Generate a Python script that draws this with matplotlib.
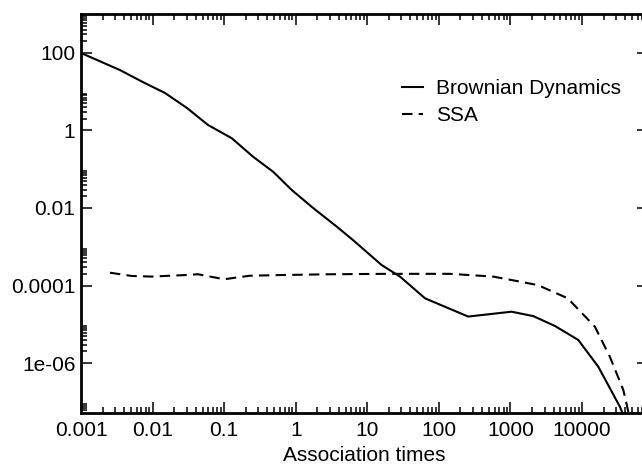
import numpy as np
import matplotlib
matplotlib.use('Agg')
import matplotlib.pyplot as plt
from matplotlib.ticker import FixedLocator, FixedFormatter, NullFormatter

plt.rcParams['font.family'] = ['Liberation Sans', 'DejaVu Sans']

# Brownian Dynamics curve
bd_t = [0.001, 0.0035, 0.0073, 0.0149, 0.0303, 0.0594, 0.128, 0.253, 0.482,
        0.879, 1.75, 3.74, 6.31, 10.9, 15.8, 28.6, 64.0, 122, 257, 1040,
        2090, 4200, 8870, 16900, 33900, 45000]
bd_y = [100, 36.3, 17.8, 9.29, 3.80, 1.39, 0.63, 0.211, 0.0865,
        0.0292, 0.0100, 0.00331, 0.00149, 0.000617, 0.000339, 0.000170,
        4.68e-05, 2.82e-05, 1.58e-05, 2.11e-05, 1.62e-05, 9.0e-06, 3.93e-06,
        8.0e-07, 7.4e-08, 2e-08]

# SSA curve
ssa_t = [0.00254, 0.00513, 0.00973, 0.0284, 0.0432, 0.1, 0.23, 0.603,
         3.01, 18.6, 143, 572, 1360, 2430, 6310, 15100, 24500, 37800,
         42200, 50000]
ssa_y = [0.000214, 0.000176, 0.00017, 0.000186, 0.000195, 0.000145,
         0.000179, 0.000186, 0.000195, 0.0002, 0.0002, 0.00017, 0.000126,
         0.000102, 4.68e-05, 8.7e-06, 1.45e-06, 2.0e-07, 8.3e-08, 2e-08]

xticks = [1e-3, 1e-2, 1e-1, 1, 10, 100, 1000, 10000]
xticklabels = ['0.001', '0.01', '0.1', '1', '10', '100', '1000', '10000']
yticks = [1e2, 1, 1e-2, 1e-4, 1e-6]
yticklabels = ['100', '1', '0.01', '0.0001', '1e-06']

fig = plt.figure(figsize=(6.42, 4.66), dpi=100)
ax = fig.add_axes([81/642, 1-413/466, 567/642, 399/466])

ax.plot(bd_t, bd_y, color='black', lw=1.5, label='Brownian Dynamics')
ax.plot(ssa_t, ssa_y, color='black', lw=1.5, dashes=(5, 3), label='SSA')

ax.set_xscale('log')
ax.set_yscale('log')
ax.set_xlim(1e-3, 10**4.922)
ax.set_ylim(10**-7.29, 10**3.006)

ax.xaxis.set_major_locator(FixedLocator(xticks))
ax.xaxis.set_major_formatter(FixedFormatter(xticklabels))
xminor = [m * 10.0**k for k in range(-3, 5) for m in range(2, 10)]
ax.xaxis.set_minor_locator(FixedLocator(xminor))
ax.xaxis.set_minor_formatter(NullFormatter())

ax.yaxis.set_major_locator(FixedLocator(yticks))
ax.yaxis.set_major_formatter(FixedFormatter(yticklabels))
yminor = [m * 10.0**k for k in range(-8, 3, 2) for m in range(2, 10)]
ax.yaxis.set_minor_locator(FixedLocator(yminor))
ax.yaxis.set_minor_formatter(NullFormatter())

ax.tick_params(which='both', direction='in', top=True, right=True,
               width=1.1, labelsize=15, colors='black')
ax.tick_params(which='major', length=8)
ax.tick_params(which='minor', length=4)
ax.tick_params(which='minor', axis='y', right=False)
ax.tick_params(axis='x', pad=6)
ax.tick_params(axis='y', pad=4)

for s in ax.spines.values():
    s.set_linewidth(2)

ax.set_xlabel('Association times', fontsize=15, labelpad=4)

ax.legend(loc='upper left', bbox_to_anchor=(0.566, 0.837), frameon=False,
          fontsize=15, handlelength=1.0, handletextpad=0.65,
          labelspacing=0.4, borderpad=0, borderaxespad=0)

fig.savefig('out.png', dpi=100)
